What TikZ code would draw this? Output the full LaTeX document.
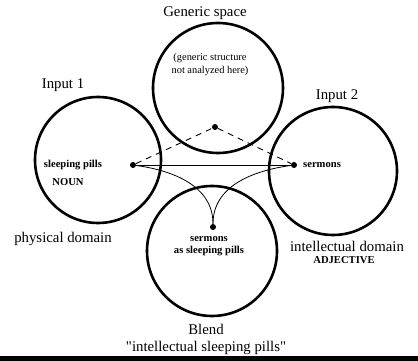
\documentclass[tikz,border=0pt]{standalone}
\usepackage{fontspec}
\setmainfont{Liberation Serif}
\usetikzlibrary{positioning}
\tikzset{space/.style = {draw, circle, line width = 2.6pt, inner sep = 0}}
\tikzset{circ/.style = {fill, circle, inner sep = 0, minimum size = 6}}
\tikzset{lbl/.style = {font = \fontsize{14.8}{17}\selectfont, align = center, inner sep = 0}}
\tikzset{small/.style = {font = \fontsize{10.4}{13}\selectfont, align = center, inner sep = 0}}
\tikzset{tag/.style = {font = \bfseries\fontsize{10.6}{12.5}\selectfont, align = center, inner sep = 0}}
\begin{document}
\begin{tikzpicture}[x = 1pt, y = 1pt]
      \useasboundingbox (0, 0) rectangle (418, 361);
      \fill (0, 0) rectangle (418, 5);
      % the four spaces
      \node [space, minimum size = 130] (generic) at (218, 273) {};
      \node [space, minimum size = 126] (input1) at (98, 201) {};
      \node [space, minimum size = 128] (input2) at (333, 190) {};
      \node [space, minimum size = 130] (blend) at (212, 110) {};
      % elements
      \node [circ] (pills) at (133, 196) {};
      \node [circ] (sermons) at (294, 196) {};
      \node [circ] (gen) at (215, 234) {};
      \node [circ] (mix) at (213, 134) {};
      \draw [line width = 0.9pt] (pills) -- (sermons);
      \draw [line width = 0.9pt, dashed, dash pattern = on 6pt off 5pt] (pills) -- (gen) -- (sermons);
      \draw [line width = 0.8pt] (pills) to [out = -8, in = 90] (mix);
      \draw [line width = 0.8pt] (sermons) to [out = 188, in = 90] (mix);
      % labels
      \node [lbl] (genlbl) at (205, 348) {Generic space};
      \node [small] (gentxt) at (210, 296) {(generic structure\\not analyzed here)};
      \node [lbl] (in1lbl) at (63, 276) {Input 1};
      \node [lbl] (in2lbl) at (337, 265) {Input 2};
      \node [tag] (pillstxt) at (73, 196) {sleeping pills};
      \node [tag] (noun) at (68, 179) {NOUN};
      \node [tag, anchor = west] (sermtxt) at (303, 196) {sermons};
      \node [lbl] (phys) at (63, 122) {physical domain};
      \node [tag] (mixtxt) at (209, 115) {sermons\\as sleeping pills};
      \node [lbl] (intel) at (347, 115) {intellectual domain};
      \node [tag] (adj) at (344, 101) {ADJECTIVE};
      \node [lbl] (blendlbl) at (206, 22) {Blend\\\textquotedbl intellectual sleeping pills\textquotedbl};
    \end{tikzpicture}
\end{document}
